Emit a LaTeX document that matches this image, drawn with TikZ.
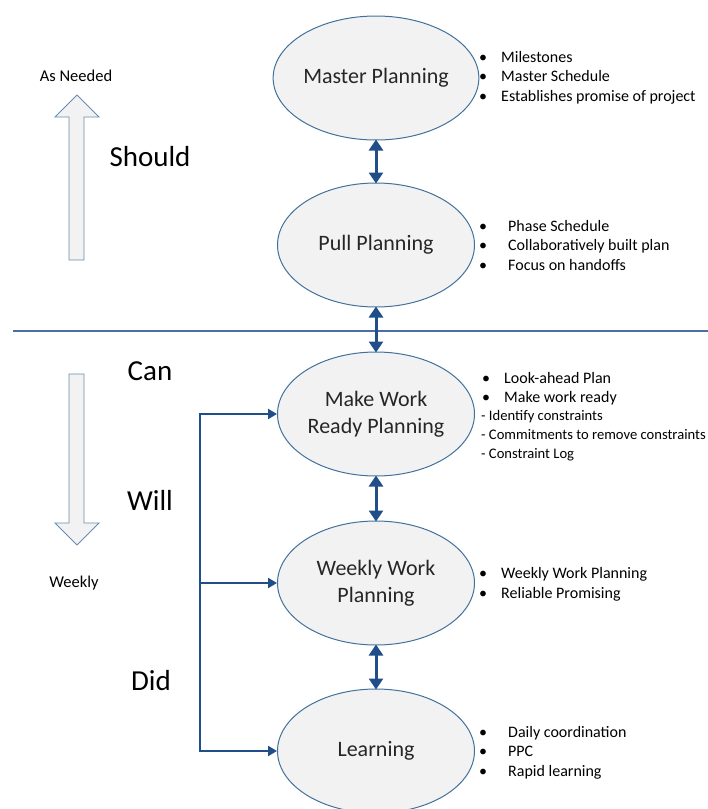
\documentclass[tikz,border=0pt]{standalone}
\usepackage{fontspec}
\setmainfont{Carlito}
\usetikzlibrary{arrows.meta,shapes.geometric}
\definecolor{ellfill}{HTML}{F2F2F2}
\definecolor{ellline}{HTML}{41719C}
\definecolor{arrblue}{HTML}{1F4E88}
\definecolor{sepline}{HTML}{4A6FA0}
\tikzset{
  plan/.style={ellipse, draw=ellline, fill=ellfill, line width=1pt, minimum width=197pt, minimum height=124pt, inner sep=0pt, align=center, font=\fontsize{22}{27}\selectfont, text=black!85},
  dbl/.style={draw=arrblue, line width=3pt, {Triangle[length=11pt,width=14pt]}-{Triangle[length=11pt,width=14pt]}, shorten <=-1pt, shorten >=-1pt},
  feed/.style={draw=arrblue, line width=2.2pt, -{Triangle[length=9pt,width=10pt]}},
  trunk/.style={draw=arrblue, line width=2.2pt},
  item/.style={anchor=base west, inner sep=0pt, font=\fontsize{16}{18}\selectfont},
  sub/.style={anchor=base west, inner sep=0pt, font=\fontsize{14.6}{16}\selectfont},
  side/.style={anchor=center, inner sep=0pt, font=\fontsize{29}{31}\selectfont},
  small/.style={anchor=center, inner sep=0pt, font=\fontsize{16.5}{18}\selectfont},
  blockarrow/.style={draw=ellline!80, fill=ellfill, line width=0.9pt}
}
\begin{document}
\begin{tikzpicture}[x=1pt,y=-1pt]
\useasboundingbox (0,0) rectangle (708,809);
% separator
\draw[sepline, line width=1.5pt] (13,331) -- (708,331);
% ellipses
\node[plan] (mp) at (376,78) {Master Planning};
\node[plan] (pp) at (376,245) {Pull Planning};
\node[plan] (mwr) at (376,414) {Make Work\\Ready Planning};
\node[plan] (wwp) at (376,583) {Weekly Work\\Planning};
\node[plan] (lrn) at (376,751) {Learning};
% double arrows
\draw[dbl] (mp.south) -- (pp.north);
\draw[dbl] (pp.south) -- (mwr.north);
\draw[dbl] (mwr.south) -- (wwp.north);
\draw[dbl] (wwp.south) -- (lrn.north);
% bracket feed
\coordinate (bt) at (200,414);
\coordinate (bm) at (200,583);
\coordinate (bb) at (200,751);
\draw[trunk] (bt) -- (bb);
\draw[feed] ([xshift=-1.1pt]bt) -- (mwr.west);
\draw[feed] (bm) -- (wwp.west);
\draw[feed] ([xshift=-1.1pt]bb) -- (lrn.west);
% block arrows
\draw[blockarrow] (69,260) -- (69,117) -- (55,117) -- (77,95) -- (99,117) -- (84,117) -- (84,260) -- cycle;
\draw[blockarrow] (69,374) -- (69,523) -- (55,523) -- (77,545) -- (99,523) -- (84,523) -- (84,374) -- cycle;
% side labels
\node[small] (asn) at (76,76) {As Needed};
\node[small] (wkl) at (74,583) {Weekly};
\node[side] (should) at (150,157) {Should};
\node[side] (can) at (150,371) {Can};
\node[side] (will) at (150,500) {Will};
\node[side] (did) at (151,681) {Did};
% Master list
\node[item] (m1b) at (479,62) {\textbullet};
\node[item] (m1) at (501,62) {Milestones};
\node[item] (m2b) at (479,81) {\textbullet};
\node[item] (m2) at (501,81) {Master Schedule};
\node[item] (m3b) at (479,101) {\textbullet};
\node[item] (m3) at (501,101) {Establishes promise of project};
% Pull list
\node[item] (p1b) at (479,231) {\textbullet};
\node[item] (p1) at (508,231) {Phase Schedule};
\node[item] (p2b) at (479,250) {\textbullet};
\node[item] (p2) at (508,250) {Collaboratively built plan};
\node[item] (p3b) at (479,270) {\textbullet};
\node[item] (p3) at (508,270) {Focus on handoffs};
% Make work ready list
\node[item] (r1b) at (482,383) {\textbullet};
\node[item] (r1) at (504,383) {Look-ahead Plan};
\node[item] (r2b) at (482,402) {\textbullet};
\node[item] (r2) at (504,402) {Make work ready};
\node[sub] (r3) at (481,420) {- Identify constraints};
\node[sub] (r4) at (481,439) {- Commitments to remove constraints};
\node[sub] (r5) at (481,458) {- Constraint Log};
% Weekly list
\node[item] (w1b) at (479,578) {\textbullet};
\node[item] (w1) at (501,578) {Weekly Work Planning};
\node[item] (w2b) at (479,598) {\textbullet};
\node[item] (w2) at (501,598) {Reliable Promising};
% Learning list
\node[item] (l1b) at (479,737) {\textbullet};
\node[item] (l1) at (508,737) {Daily coordination};
\node[item] (l2b) at (479,756) {\textbullet};
\node[item] (l2) at (508,756) {PPC};
\node[item] (l3b) at (479,776) {\textbullet};
\node[item] (l3) at (508,776) {Rapid learning};
\end{tikzpicture}
\end{document}
